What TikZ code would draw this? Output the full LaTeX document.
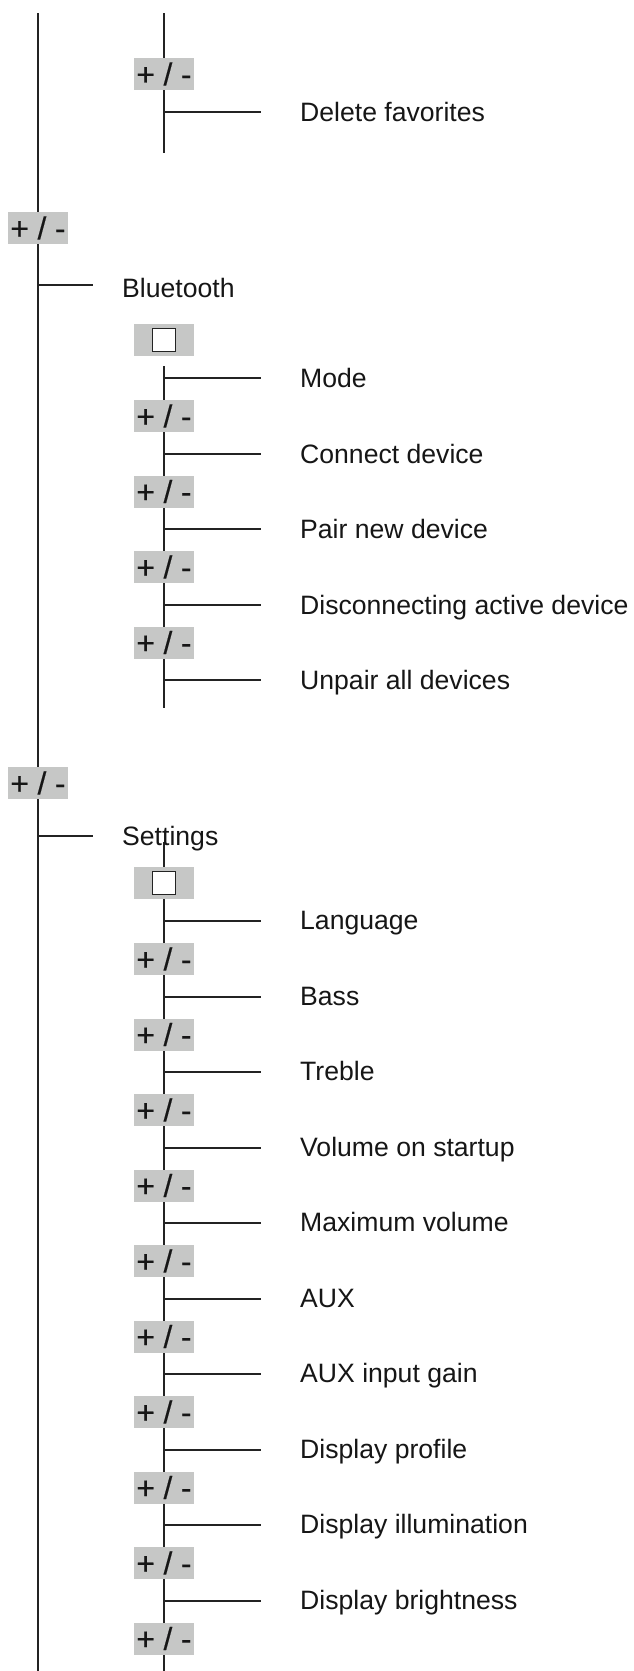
\documentclass[tikz,border=0pt]{standalone}
\usepackage{fontspec}
\setmainfont{Liberation Sans}
\newfontfamily\pmfont[FakeBold=0.4]{Liberation Sans}
\definecolor{boxgray}{RGB}{198,199,198}
\definecolor{linec}{RGB}{35,35,35}
\definecolor{textc}{RGB}{22,22,22}
\begin{document}
\begin{tikzpicture}[x=1pt,y=-1pt,
  ln/.style={draw=linec,line width=1.6pt},
  pm/.style={fill=boxgray,draw=none,minimum width=60pt,minimum height=32pt,inner sep=0pt,
    font=\pmfont\fontsize{31.5}{31.5}\selectfont,text=textc},
  sqin/.style={fill=white,draw=linec,line width=1.3pt,minimum width=23pt,minimum height=22.5pt,inner sep=0pt},
  lbl/.style={anchor=base west,inner sep=0pt,font=\fontsize{26.6}{26.6}\selectfont,text=textc}]
\useasboundingbox (0,0) rectangle (634,1671);
\fill[white] (0,0) rectangle (634,1671);
% main vertical line
\coordinate (mtop) at (37.7,13);
\coordinate (mbot) at (37.7,1671);
\draw[ln] (mtop) -- (mbot);
% top section
\coordinate (atop) at (163.7,13);
\coordinate (abot) at (163.7,153);
\draw[ln] (atop) -- (abot);
\coordinate (aj) at (163.7,112);
\coordinate (ae) at (260.7,112);
\draw[ln] (aj) -- (ae);
\node[pm] (apm) at (164,74) {+ / -};
\node[lbl] (adel) at (300,121) {Delete favorites};
% main box 1
\node[pm] (mpm1) at (38,228) {+ / -};
% Bluetooth
\coordinate (bj) at (37.7,285);
\coordinate (be) at (92.7,285);
\draw[ln] (bj) -- (be);
\node[lbl] (blt) at (122,297) {Bluetooth};
\node[pm] (bsq) at (164,340) {};
\node[sqin] (bsqin) at (bsq.center) {};
\coordinate (btop) at (163.7,366);
\coordinate (bbot) at (163.7,708);
\draw[ln] (btop) -- (bbot);
\foreach \t [count=\k from 0] in {Mode,Connect device,Pair new device,Disconnecting active device,Unpair all devices}{
  \pgfmathsetmacro{\yy}{round(378+75.5*\k)}
  \coordinate (bj\k) at (163.7,\yy);
  \coordinate (be\k) at (260.7,\yy);
  \draw[ln] (bj\k) -- (be\k);
  \node[lbl] (bl\k) at (300,\yy+9.5) {\t};
}
\foreach \k in {0,...,3}{
  \node[pm] (bpm\k) at (164,416+75.5*\k) {+ / -};
}
% main box 2
\node[pm] (mpm2) at (38,783) {+ / -};
% Settings
\coordinate (sj) at (37.7,836);
\coordinate (se) at (92.7,836);
\draw[ln] (sj) -- (se);
\coordinate (stop) at (163.7,842);
\coordinate (sbot) at (163.7,1671);
\draw[ln] (stop) -- (sbot);
\node[lbl] (set) at (122,845) {Settings};
\node[pm] (ssq) at (164,883) {};
\node[sqin] (ssqin) at (ssq.center) {};
\foreach \t [count=\k from 0] in {Language,Bass,Treble,Volume on startup,Maximum volume,AUX,AUX input gain,Display profile,Display illumination,Display brightness}{
  \pgfmathsetmacro{\yy}{round(921+75.5*\k)}
  \coordinate (sj\k) at (163.7,\yy);
  \coordinate (se\k) at (260.7,\yy);
  \draw[ln] (sj\k) -- (se\k);
  \node[lbl] (sl\k) at (300,\yy+8.5) {\t};
}
\foreach \k in {0,...,9}{
  \node[pm] (spm\k) at (164,959+75.5*\k) {+ / -};
}
\end{tikzpicture}
\end{document}
